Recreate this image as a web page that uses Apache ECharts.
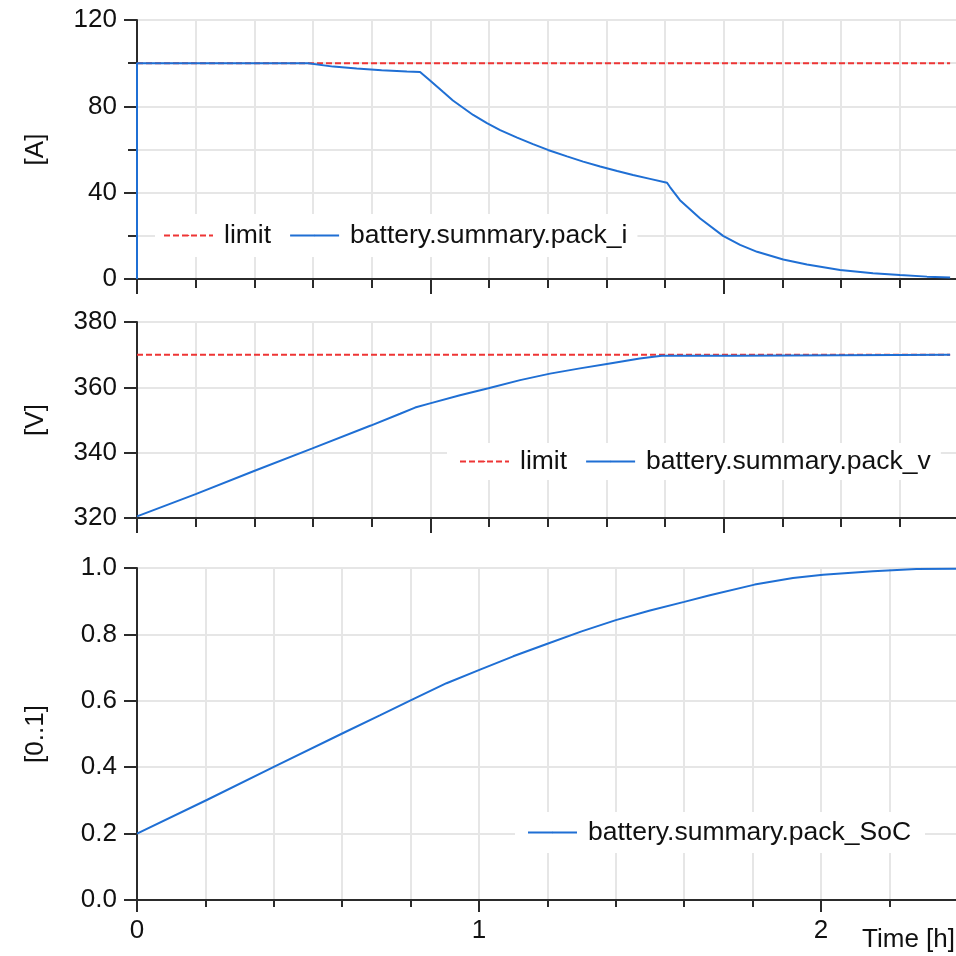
<!DOCTYPE html>
<html>
<head>
<meta charset="utf-8">
<script src="https://cdn.jsdelivr.net/npm/echarts@6/dist/echarts.min.js"></script>
<style>
  html, body { margin: 0; padding: 0; background: #fff; }
  #chart { width: 956px; height: 956px; }
</style>
</head>
<body>
<div id="chart"></div>
<script>
// pack current [A] (top plot, its own time scale)
var currentTime = [0, 0, 0.584, 0.59, 0.669, 0.749, 0.834, 0.92, 0.965, 0.999, 1.044, 1.077, 1.146, 1.193, 1.238, 1.296, 1.35, 1.401, 1.466, 1.521, 1.579, 1.637, 1.691, 1.749, 1.807, 1.817, 1.851, 1.92, 1.998, 2.056, 2.114, 2.203, 2.284, 2.397, 2.509, 2.601, 2.693, 2.772];
var currentValues = [0, 100, 100, 99.2, 98.4, 97.5, 96.7, 96.1, 95.9, 92.0, 86.6, 82.7, 76.0, 72.2, 69.0, 65.5, 62.5, 59.8, 56.8, 54.4, 52.1, 50.0, 48.2, 46.4, 44.6, 42.6, 36.5, 28.0, 20.0, 15.8, 12.6, 9.0, 6.7, 4.2, 2.7, 1.8, 1.1, 0.7];

// pack voltage [V]
var voltageTime = [0, 0.2, 0.399, 0.598, 0.797, 0.897, 0.948, 0.999, 1.101, 1.198, 1.306, 1.408, 1.51, 1.612, 1.714, 1.789, 2.028, 2.032, 2.772];
var voltageValues = [320.5, 327.3, 334.4, 341.3, 348.3, 351.9, 353.8, 355.1, 357.6, 359.7, 362.2, 364.2, 365.8, 367.3, 368.8, 369.7, 369.7, 370.0, 370.0];

// limits
var limitTime = [0, 2.772];
var currentLimit = [100, 100];
var voltageLimit = [370, 370];

// pack SoC [0..1] (bottom plot, time in h)
var socTime = [0, 0.2055, 0.406, 0.603, 0.71, 0.803, 0.905, 1.003, 1.1, 1.2, 1.3, 1.4, 1.5, 1.6, 1.675, 1.806, 1.918, 2.006, 2.152, 2.279, 2.4];
var socValues = [0.2, 0.302, 0.404, 0.503, 0.556, 0.603, 0.653, 0.694, 0.734, 0.772, 0.809, 0.843, 0.872, 0.898, 0.918, 0.95, 0.97, 0.98, 0.99, 0.997, 0.998];

function zip(xs, ys) {
  return xs.map(function (x, i) { return [x, ys[i]]; });
}

var FONT = "'Liberation Sans', Arial, sans-serif";
var TXT = "#111";
var BLUE = "#1f6fd4";
var RED = "#ee3535";
var GRIDC = "#e6e6e6";
var AXC = "#2b2b2b";

var chart = echarts.init(document.getElementById("chart"));

function xAxis(gridIndex, showLabels, majorLen, minorLen) {
  return {
    type: "value",
    gridIndex: gridIndex,
    min: 0,
    max: 3,
    interval: 1,
    axisLine: { show: true, onZero: false, lineStyle: { color: AXC, width: 2 } },
    axisTick: { show: true, inside: false, length: majorLen, lineStyle: { color: AXC, width: 2 } },
    minorTick: { show: true, splitNumber: 5, length: minorLen, lineStyle: { color: AXC, width: 2 } },
    splitLine: { show: true, lineStyle: { color: GRIDC, width: 2 } },
    minorSplitLine: { show: true, lineStyle: { color: GRIDC, width: 2 } },
    axisLabel: {
      show: showLabels,
      margin: 18,
      color: TXT,
      fontSize: 26,
      fontFamily: FONT,
    },
  };
}

function yAxis(gridIndex, name, min, max, interval, minor, formatter) {
  return {
    type: "value",
    gridIndex: gridIndex,
    min: min,
    max: max,
    interval: interval,
    name: name,
    nameLocation: "middle",
    nameGap: 88,
    nameRotate: 90,
    nameTextStyle: { color: TXT, fontSize: 26, fontFamily: FONT },
    axisLine: { show: true, onZero: false, lineStyle: { color: AXC, width: 2 } },
    axisTick: { show: true, inside: false, length: 13, lineStyle: { color: AXC, width: 2 } },
    minorTick: { show: minor, splitNumber: 2, length: 9, lineStyle: { color: AXC, width: 2 } },
    splitLine: { show: true, lineStyle: { color: GRIDC, width: 2 } },
    minorSplitLine: { show: minor, lineStyle: { color: GRIDC, width: 2 } },
    axisLabel: {
      margin: 20,
      color: TXT,
      fontSize: 26,
      fontFamily: FONT,
      formatter: formatter,
    },
  };
}

var legendBase = {
  orient: "horizontal",
  backgroundColor: "#fff",
  itemWidth: 49,
  itemHeight: 2,
  itemGap: 18,
  selectedMode: false,
  itemStyle: { borderWidth: 0 },
  textStyle: { color: TXT, fontSize: 26.5, fontFamily: FONT, padding: [0, 0, 0, 6] },
};

var gridBase = { show: true, borderColor: AXC, borderWidth: 2, containLabel: false, outerBoundsMode: "none" };

var option = {
  animation: false,
  backgroundColor: "#fff",
  grid: [
    // top plots: 293.3 px per hour, extended off-screen to the right
    Object.assign({ left: 137, top: 20, width: 880, height: 259 }, gridBase),
    Object.assign({ left: 137, top: 322, width: 880, height: 196 }, gridBase),
    // bottom plot: 342.1 px per hour
    Object.assign({ left: 137, top: 568, width: 1026, height: 332 }, gridBase),
  ],
  xAxis: [xAxis(0, false, 15, 9), xAxis(1, false, 15, 9), xAxis(2, true, 12, 7)],
  yAxis: [
    yAxis(0, "[A]", 0, 120, 40, true),
    yAxis(1, "[V]", 320, 380, 20, false),
    yAxis(2, "[0..1]", 0, 1, 0.2, false, function (v) { return v.toFixed(1); }),
  ],
  legend: [
    Object.assign({}, legendBase, {
      left: 155, top: 214, padding: [8, 10, 8, 8],
      data: ["limit", "battery.summary.pack_i"],
    }),
    Object.assign({}, legendBase, {
      left: 447, top: 443, padding: [5, 10, 5, 12],
      data: ["limit", "battery.summary.pack_v"],
    }),
    Object.assign({}, legendBase, {
      left: 515, top: 812, padding: [7, 14, 7, 12],
      data: ["battery.summary.pack_SoC"],
    }),
  ],
  graphic: [
    {
      type: "text",
      right: 1,
      top: 927,
      style: { text: "Time [h]", fill: TXT, fontSize: 26, fontFamily: FONT },
    },
  ],
  series: [
    {
      name: "limit", type: "line", xAxisIndex: 0, yAxisIndex: 0,
      symbol: "none", data: zip(limitTime, currentLimit),
      lineStyle: { color: RED, width: 2, type: [6, 3] }, itemStyle: { color: RED },
    },
    {
      name: "battery.summary.pack_i", type: "line", xAxisIndex: 0, yAxisIndex: 0,
      symbol: "none", data: zip(currentTime, currentValues),
      lineStyle: { color: BLUE, width: 2 }, itemStyle: { color: BLUE },
    },
    {
      name: "limit", type: "line", xAxisIndex: 1, yAxisIndex: 1,
      symbol: "none", data: zip(limitTime, voltageLimit),
      lineStyle: { color: RED, width: 2, type: [6, 3] }, itemStyle: { color: RED },
    },
    {
      name: "battery.summary.pack_v", type: "line", xAxisIndex: 1, yAxisIndex: 1,
      symbol: "none", data: zip(voltageTime, voltageValues),
      lineStyle: { color: BLUE, width: 2 }, itemStyle: { color: BLUE },
    },
    {
      name: "battery.summary.pack_SoC", type: "line", xAxisIndex: 2, yAxisIndex: 2,
      symbol: "none", data: zip(socTime, socValues),
      lineStyle: { color: BLUE, width: 2 }, itemStyle: { color: BLUE },
    },
  ],
};

chart.setOption(option);
</script>
</body>
</html>
